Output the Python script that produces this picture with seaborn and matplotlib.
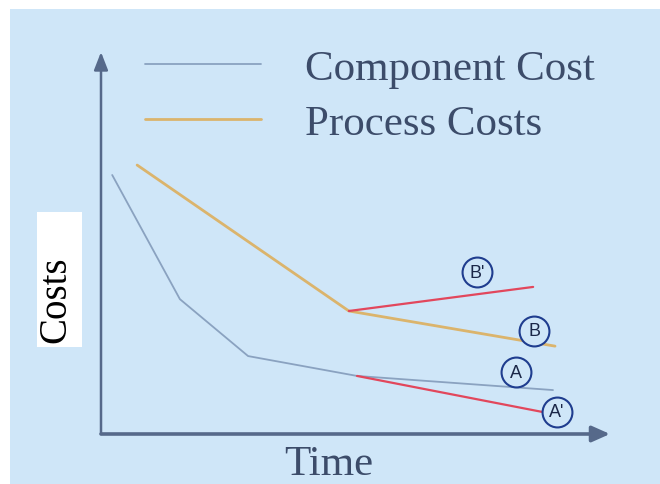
import matplotlib
matplotlib.use("Agg")
import matplotlib.pyplot as plt
from matplotlib.patches import Rectangle
import pandas as pd
import seaborn as sns

# Cost curves over time
time_component = [0.22, 1.55, 2.89, 5.03, 8.88]
cost_component = [6.78, 3.53, 2.04, 1.52, 1.15]
time_process = [0.71, 4.87, 8.92]
cost_process = [7.04, 3.22, 2.30]

# Alternative paths branching off each curve
time_alt_b = [4.87, 8.49]
cost_alt_b = [3.22, 3.85]
time_alt_a = [5.03, 8.66]
cost_alt_a = [1.52, 0.58]

# Circled scenario markers
marker_labels = ["B'", "B", "A", "A'"]
marker_time = [7.39, 8.51, 8.15, 8.96]
marker_cost = [4.24, 2.70, 1.62, 0.58]

series_names = ["Component Cost", "Process Costs"]

W, H = 660, 485
BG = "#cfe6f8"
AXIS = "#56698a"
TEXT = "#3c4c6a"
SERIF = ["Liberation Serif", "DejaVu Serif"]

sns.set_theme(style="white")
plt.rcParams["font.family"] = SERIF

fig = plt.figure(figsize=(W / 100, H / 100), dpi=100)
fig.patch.set_facecolor("white")
fig.patches.append(Rectangle((10 / W, 0), 1 - 10 / W, 1 - 10 / H,
                             transform=fig.transFigure, facecolor=BG,
                             edgecolor="none", zorder=-10))
# white box behind the vertical axis title
fig.patches.append(Rectangle((37 / W, 1 - 348 / H), 45 / W, 135 / H,
                             transform=fig.transFigure, facecolor="white",
                             edgecolor="none", zorder=-5))

x0, x1, y0, y1 = 101, 610, 53, 435
ax = fig.add_axes([x0 / W, 1 - y1 / H, (x1 - x0) / W, (y1 - y0) / H])
ax.set_facecolor("none")
ax.set_xlim(0, 10)
ax.set_ylim(0, 10)
for s in ax.spines.values():
    s.set_visible(False)
ax.set_xticks([])
ax.set_yticks([])

main = pd.concat([
    pd.DataFrame({"Time": time_component, "Cost": cost_component,
                  "Series": series_names[0]}),
    pd.DataFrame({"Time": time_process, "Cost": cost_process,
                  "Series": series_names[1]}),
])
sns.lineplot(data=main, x="Time", y="Cost", hue="Series", sort=False,
             palette={series_names[0]: "#8aa2c0", series_names[1]: "#dbb46c"},
             ax=ax, legend=False, estimator=None)
lines = ax.get_lines()
lines[0].set_linewidth(1.3)
lines[1].set_linewidth(2.0)

sns.lineplot(x=time_alt_b, y=cost_alt_b, color="#e2475c", lw=1.6, ax=ax,
             sort=False, estimator=None)
sns.lineplot(x=time_alt_a, y=cost_alt_a, color="#e2475c", lw=1.6, ax=ax,
             sort=False, estimator=None)

ax.plot(marker_time, marker_cost, ls="none", marker="o", ms=21.5,
        mfc=BG, mec="#1f3d8f", mew=1.5, zorder=5)
for lab, t, c in zip(marker_labels, marker_time, marker_cost):
    ax.text(t, c, lab, ha="center", va="center", fontsize=13,
            family=["Liberation Sans", "DejaVu Sans"], color="#1b2748",
            zorder=6)

# axis arrows
ax.annotate("", xy=(1, 0), xytext=(0, 0), xycoords="axes fraction",
            arrowprops=dict(arrowstyle="-|>,head_length=0.9,head_width=0.4",
                            color=AXIS, lw=2.6, shrinkA=0, shrinkB=0),
            annotation_clip=False)
ax.annotate("", xy=(0, 1), xytext=(0, 0), xycoords="axes fraction",
            arrowprops=dict(arrowstyle="-|>,head_length=0.9,head_width=0.35",
                            color=AXIS, lw=1.8, shrinkA=0, shrinkB=0),
            annotation_clip=False)

fig.text(329 / W, 1 - 465 / H, "Time", ha="center", va="center",
         fontsize=31, color=TEXT)
fig.text(56 / W, 1 - 300 / H, "Costs", ha="center", va="center",
         rotation=90, fontsize=28, color="black")

leg = fig.legend(handles=lines[:2], labels=series_names, loc="upper left",
                 bbox_to_anchor=(128 / W, 1 - 33 / H), frameon=False,
                 fontsize=31, handlelength=2.7, handletextpad=1.0,
                 labelspacing=0.37, borderaxespad=0)
for t in leg.get_texts():
    t.set_color(TEXT)

fig.savefig("out.png", dpi=100)
